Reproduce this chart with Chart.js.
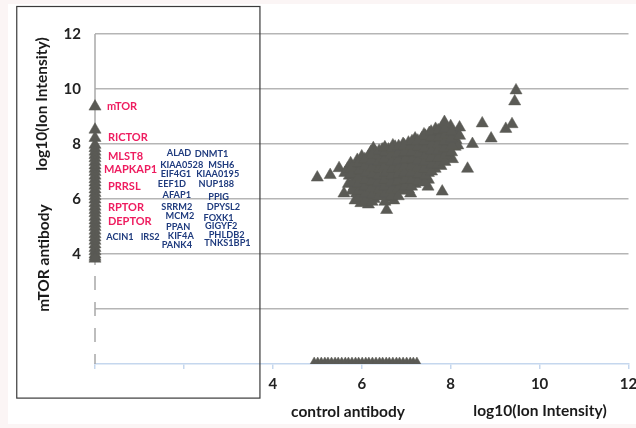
<!DOCTYPE html>
<html>
<head>
<meta charset="utf-8">
<script src="https://cdn.jsdelivr.net/npm/chart.js@4.4.1/dist/chart.umd.min.js"></script>
<style>
  html, body { margin: 0; padding: 0; background: #ffffff; }
  #wrap { width: 636px; height: 428px; }
</style>
</head>
<body>
<div id="wrap"><canvas id="scatterChart" width="636" height="428"></canvas></div>
<script>
// Axes (log10 ion intensity)
const axisMin = 0;
const axisMax = 12;
const tickLabels = ['4', '6', '8', '10', '12'];

// Proteins seen with both antibodies: x = control, y = mTOR
const bothX = [
  5.00, 5.29, 5.49, 5.60, 5.62,
  5.70, 5.72, 5.68, 5.75,
  5.85, 5.88, 5.83, 5.86, 5.84, 5.87, 5.90,
  5.98, 6.02, 6.00, 6.03, 5.99, 6.01, 6.04, 6.00,
  6.15, 6.18, 6.14, 6.16, 6.19, 6.13, 6.17, 6.15, 6.20,
  6.28, 6.31, 6.30, 6.33, 6.27, 6.32, 6.29, 6.26, 6.31,
  6.45, 6.47, 6.44, 6.48, 6.46, 6.43, 6.49, 6.46,
  6.56, 6.60, 6.62, 6.58, 6.63, 6.60, 6.57, 6.62, 6.60, 6.70,
  6.72, 6.75, 6.77, 6.74, 6.78, 6.73, 6.76, 6.79, 6.75,
  6.90, 6.92, 6.88, 6.93, 6.90, 6.87, 6.91, 6.93,
  7.05, 7.10, 7.03, 7.07, 7.04, 7.08, 7.02, 7.06, 7.05,
  7.20, 7.22, 7.18, 7.23, 7.19, 7.21, 7.24, 7.20,
  7.35, 7.37, 7.33, 7.36, 7.34, 7.38, 7.35, 7.40,
  7.49, 7.50, 7.50, 7.52, 7.48, 7.51, 7.53, 7.49, 7.52,
  7.65, 7.67, 7.63, 7.66, 7.64, 7.68, 7.66,
  7.81, 7.78, 7.80, 7.82, 7.79, 7.81, 7.80, 7.82,
  7.95, 7.97, 7.94, 7.96, 7.98, 8.00,
  8.04, 8.10, 8.12, 8.15, 8.20, 8.16,
  8.38, 8.49, 8.71, 8.91, 9.24, 9.38, 9.44, 9.47,
  5.78, 5.79, 5.77, 5.78,
  5.93, 5.94, 5.92, 5.93, 5.95, 5.93,
  6.08, 6.09, 6.07, 6.08, 6.10, 6.08, 6.07,
  6.23, 6.24, 6.22, 6.23, 6.25, 6.23, 6.22, 6.24,
  6.38, 6.39, 6.37, 6.38, 6.40, 6.38, 6.37, 6.39,
  6.52, 6.53, 6.51, 6.52, 6.54, 6.52, 6.51, 6.53, 6.52,
  6.67, 6.68, 6.66, 6.67, 6.69, 6.67, 6.66, 6.68,
  6.82, 6.83, 6.81, 6.82, 6.84, 6.82, 6.81, 6.83,
  6.97, 6.98, 6.96, 6.97, 6.99, 6.97, 6.96,
  7.12, 7.13, 7.11, 7.12, 7.14, 7.12, 7.11, 7.13,
  7.27, 7.28, 7.26, 7.27, 7.29, 7.27, 7.26,
  7.42, 7.43, 7.41, 7.42, 7.44, 7.42, 7.41, 7.43,
  7.57, 7.58, 7.56, 7.57, 7.59, 7.57, 7.56,
  7.72, 7.73, 7.71, 7.72, 7.74, 7.72,
  7.87, 7.88, 7.86, 7.87, 7.89, 7.87, 7.86,
  8.02, 8.03, 8.01, 8.02, 8.20
];
const bothY = [
  6.78, 6.87, 7.12, 6.20, 6.95,
  6.55, 6.85, 7.10, 7.30,
  5.95, 6.20, 6.45, 6.70, 6.95, 7.20, 7.42,
  5.85, 6.10, 6.35, 6.60, 6.85, 7.10, 7.35, 7.55,
  5.80, 6.05, 6.30, 6.55, 6.80, 7.05, 7.30, 7.55, 7.70,
  6.00, 6.25, 6.50, 6.75, 7.00, 7.25, 7.50, 7.85, 7.70,
  6.10, 6.35, 6.60, 6.85, 7.10, 7.35, 7.60, 7.80,
  5.60, 6.05, 6.30, 6.55, 6.80, 7.05, 7.30, 7.55, 7.80, 7.95,
  5.95, 6.20, 6.45, 6.70, 6.95, 7.20, 7.45, 7.70, 7.90,
  6.30, 6.55, 6.80, 7.05, 7.30, 7.55, 7.80, 8.00,
  6.35, 6.20, 6.60, 6.85, 7.10, 7.35, 7.60, 7.85, 8.05,
  6.55, 6.80, 7.05, 7.30, 7.55, 7.80, 8.05, 8.20,
  6.75, 7.00, 7.25, 7.50, 7.75, 8.00, 8.20, 8.35,
  6.45, 6.70, 6.95, 7.20, 7.45, 7.70, 7.95, 8.20, 8.40,
  7.10, 7.35, 7.60, 7.85, 8.10, 8.35, 8.55,
  6.27, 7.20, 7.45, 7.70, 7.95, 8.20, 8.45, 8.65,
  7.55, 7.80, 8.05, 8.30, 8.55, 8.65,
  7.45, 7.90, 8.15, 8.40, 8.60, 7.95,
  7.10, 8.00, 8.75, 8.20, 8.55, 8.72, 9.55, 9.95,
  6.30, 6.60, 6.90, 7.15,
  6.05, 6.30, 6.55, 6.80, 7.05, 7.30,
  5.95, 6.20, 6.45, 6.70, 6.95, 7.20, 7.45,
  5.90, 6.15, 6.40, 6.65, 6.90, 7.15, 7.40, 7.62,
  6.10, 6.35, 6.60, 6.85, 7.10, 7.35, 7.60, 7.75,
  5.90, 6.20, 6.45, 6.70, 6.95, 7.20, 7.45, 7.70, 7.88,
  6.10, 6.35, 6.60, 6.85, 7.10, 7.35, 7.60, 7.82,
  6.10, 6.40, 6.65, 6.90, 7.15, 7.40, 7.65, 7.92,
  6.45, 6.70, 6.95, 7.20, 7.45, 7.70, 7.95,
  6.45, 6.70, 6.95, 7.20, 7.45, 7.70, 7.95, 8.10,
  6.65, 6.90, 7.15, 7.40, 7.65, 7.90, 8.12,
  6.60, 6.85, 7.10, 7.35, 7.60, 7.85, 8.10, 8.30,
  7.00, 7.25, 7.50, 7.75, 8.00, 8.25, 8.45,
  7.25, 7.50, 7.75, 8.00, 8.25, 8.50,
  7.35, 7.60, 7.85, 8.10, 8.35, 8.55, 8.80,
  7.70, 7.95, 8.20, 8.45, 8.30
];

// Proteins seen only with the mTOR antibody (sit on x = 0)
const mtorOnlyY = [
  9.36, 8.52, 8.22, 7.97, 7.85, 7.72, 7.60, 7.48, 7.35, 7.22,
  7.10, 6.98, 6.85, 6.72, 6.60, 6.48, 6.35, 6.22, 6.10, 5.98,
  5.85, 5.72, 5.60, 5.48, 5.35, 5.22, 5.10, 4.98, 4.85, 4.72,
  4.60, 4.48, 4.35, 4.22, 4.10, 3.98, 3.90, 3.83
];

// Proteins seen only with the control antibody (sit on y = 0)
const controlOnlyX = [
  4.93, 5.01, 5.09, 5.17, 5.24, 5.32, 5.40, 5.47, 5.55, 5.63,
  5.70, 5.78, 5.86, 5.93, 6.01, 6.09, 6.16, 6.24, 6.32, 6.40,
  6.47, 6.55, 6.62, 6.70, 6.78, 6.85, 6.93, 7.01, 7.09, 7.16, 7.24
];

// mTOR complex members (pink) and other interactors (blue)
const complexNames = ['mTOR', 'RICTOR', 'MLST8', 'MAPKAP1', 'PRRSL', 'RPTOR', 'DEPTOR'];
const complexX = [0.27, 0.29, 0.29, 0.20, 0.29, 0.29, 0.29];
const complexY = [9.35, 8.22, 7.53, 7.09, 6.44, 5.71, 5.20];

const otherNames = ['ALAD', 'DNMT1', 'KIAA0528', 'MSH6', 'EIF4G1', 'KIAA0195', 'EEF1D', 'NUP188',
  'AFAP1', 'PPIG', 'SRRM2', 'DPYSL2', 'MCM2', 'FOXK1', 'PPAN', 'GIGYF2',
  'ACIN1', 'IRS2', 'KIF4A', 'PHLDB2', 'PANK4', 'TNKS1BP1'];
const otherX = [1.89, 2.62, 1.95, 2.84, 1.82, 2.76, 1.73, 2.73,
  1.84, 2.78, 1.84, 2.89, 1.91, 2.78, 1.87, 2.84,
  0.56, 1.24, 1.93, 2.96, 1.84, 2.98];
const otherY = [7.67, 7.64, 7.24, 7.24, 6.91, 6.91, 6.55, 6.55,
  6.15, 6.07, 5.71, 5.71, 5.38, 5.31, 4.98, 5.02,
  4.62, 4.62, 4.65, 4.69, 4.33, 4.40];

const markColor = '#5a5a55';
const fontFamily = 'Lato, "Open Sans", sans-serif';

function toPoints(xs, ys) {
  return xs.map((x, i) => ({ x: x, y: ys[i] }));
}

// Fond avec une fine marge rosée
const backgroundPlugin = {
  id: 'background',
  beforeDraw(chart) {
    const ctx = chart.ctx;
    ctx.save();
    ctx.fillStyle = '#fbf5f5';
    ctx.fillRect(0, 0, chart.width, chart.height);
    ctx.fillStyle = '#ffffff';
    ctx.fillRect(8, 4, chart.width - 8, chart.height - 8);
    ctx.restore();
  }
};

// Axe vertical : trait plein au-dessus de 4, pointillé en dessous
const yAxisLinePlugin = {
  id: 'yAxisLine',
  beforeDatasetsDraw(chart) {
    const ctx = chart.ctx;
    const x = chart.scales.x.getPixelForValue(0);
    const y = chart.scales.y;
    ctx.save();
    ctx.strokeStyle = '#a8a8a8';
    ctx.lineWidth = 1.5;
    ctx.beginPath();
    ctx.moveTo(x, y.getPixelForValue(12));
    ctx.lineTo(x, y.getPixelForValue(3.6));
    ctx.stroke();
    ctx.setLineDash([14, 12]);
    ctx.beginPath();
    ctx.moveTo(x, y.getPixelForValue(3.2));
    ctx.lineTo(x, y.getPixelForValue(0));
    ctx.stroke();
    ctx.restore();
  }
};

// Cadre, noms de protéines et titres des axes
const annotationPlugin = {
  id: 'annotations',
  afterDatasetsDraw(chart) {
    const ctx = chart.ctx;
    const xs = chart.scales.x;
    const ys = chart.scales.y;
    ctx.save();

    // cadre autour de la colonne mTOR seule
    const left = xs.getPixelForValue(-1.76);
    const right = xs.getPixelForValue(3.71);
    const top = ys.getPixelForValue(13.0);
    const bottom = ys.getPixelForValue(-1.24);
    ctx.strokeStyle = '#3a3a3a';
    ctx.lineWidth = 1.2;
    ctx.strokeRect(left, top, right - left, bottom - top);

    ctx.textBaseline = 'middle';
    ctx.fillStyle = '#ee1c5f';
    ctx.font = 'bold 11px ' + fontFamily;
    ctx.textAlign = 'left';
    complexNames.forEach((name, i) => {
      ctx.fillText(name, xs.getPixelForValue(complexX[i]), ys.getPixelForValue(complexY[i]));
    });

    ctx.fillStyle = '#1f3b7e';
    ctx.font = 'bold 9.2px ' + fontFamily;
    ctx.textAlign = 'center';
    otherNames.forEach((name, i) => {
      ctx.fillText(name, xs.getPixelForValue(otherX[i]), ys.getPixelForValue(otherY[i]));
    });

    // titres
    ctx.fillStyle = '#1a1a1a';
    ctx.font = 'bold 15.5px ' + fontFamily;
    ctx.textAlign = 'center';
    ctx.fillText('control antibody', 348, 412);
    ctx.fillText('log10(Ion Intensity)', 540, 411);

    ctx.save();
    ctx.translate(44, 258);
    ctx.rotate(-Math.PI / 2);
    ctx.fillText('mTOR antibody', 0, 0);
    ctx.restore();
    ctx.save();
    ctx.translate(42, 104);
    ctx.rotate(-Math.PI / 2);
    ctx.fillText('log10(Ion Intensity)', 0, 0);
    ctx.restore();

    ctx.restore();
  }
};

function tickText(value) {
  const label = String(value);
  return tickLabels.includes(label) ? label : '';
}

const pointStyleOptions = {
  pointStyle: 'triangle',
  pointRadius: 7,
  pointHoverRadius: 7,
  backgroundColor: markColor,
  borderColor: markColor,
  borderWidth: 0.5
};

new Chart(document.getElementById('scatterChart'), {
  type: 'scatter',
  data: {
    datasets: [
      Object.assign({ label: 'both', data: toPoints(bothX, bothY), clip: false }, pointStyleOptions),
      Object.assign({ label: 'mTOR only', data: mtorOnlyY.map(y => ({ x: 0, y: y })), clip: false }, pointStyleOptions),
      Object.assign({
        label: 'control only',
        data: controlOnlyX.map(x => ({ x: x, y: 0 })),
        clip: { left: false, top: false, right: false, bottom: 0 }
      }, pointStyleOptions)
    ]
  },
  options: {
    responsive: false,
    devicePixelRatio: 1,
    animation: false,
    events: [],
    layout: { padding: { top: 34, right: 1, left: 0, bottom: 0 } },
    plugins: {
      legend: { display: false },
      tooltip: { enabled: false }
    },
    scales: {
      x: {
        type: 'linear',
        min: axisMin,
        max: axisMax,
        afterFit(scale) {
          scale.height = 64;
          scale.paddingLeft = 0;
          scale.paddingRight = 0;
        },
        border: { display: true, color: '#c5d7ee', width: 1.5, dash: [26, 8] },
        grid: {
          drawOnChartArea: false,
          drawTicks: true,
          tickLength: 5,
          color: '#c5d7ee',
          lineWidth: 1.5
        },
        ticks: {
          stepSize: 2,
          padding: 6,
          color: '#222222',
          font: { family: fontFamily, size: 15, weight: 'bold' },
          maxRotation: 0,
          callback: tickText
        }
      },
      y: {
        type: 'linear',
        min: axisMin,
        max: axisMax,
        afterFit(scale) {
          scale.width = 95;
        },
        border: { display: false },
        grid: {
          drawTicks: false,
          color: ctx => (ctx.tick && ctx.tick.value === 0 ? 'rgba(0,0,0,0)' : '#b5b5b5'),
          lineWidth: 1.5
        },
        ticks: {
          stepSize: 2,
          padding: 14,
          color: '#222222',
          font: { family: fontFamily, size: 15, weight: 'bold' },
          callback: tickText
        }
      }
    }
  },
  plugins: [backgroundPlugin, yAxisLinePlugin, annotationPlugin]
});
</script>
</body>
</html>
